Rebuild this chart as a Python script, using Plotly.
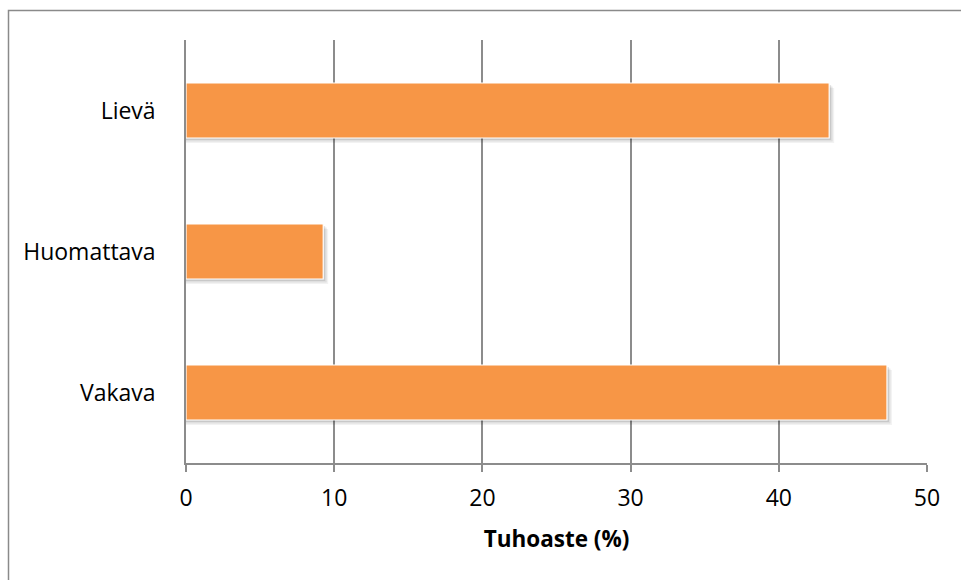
import plotly.graph_objects as go

categories = ["Vakava", "Huomattava", "Lievä"]
values = [47.3, 9.26, 43.4]
x_ticks = [0, 10, 20, 30, 40, 50]
x_title = "Tuhoaste (%)"

W, H = 961, 580
L, R, T, B = 186, 34, 40, 117
plot_w = W - L - R
plot_h = H - T - B
bar_w = 0.39
px_cat = 3 / plot_h  # category units per px
px_x = 50 / plot_w   # x units per px

fig = go.Figure()

# soft drop shadow (derived from the same values)
for i, (dy, dx, a) in enumerate([(2, 2, 0.10), (3.5, 3.5, 0.08), (5, 5, 0.05)]):
    fig.add_trace(go.Bar(
        y=categories, x=[v + dx * px_x for v in values], orientation="h",
        width=bar_w, offset=-bar_w / 2 - dy * px_cat,
        marker=dict(color=f"rgba(0,0,0,{a})", line=dict(width=0)),
        hoverinfo="skip", showlegend=False,
    ))

fig.add_trace(go.Bar(
    y=categories, x=values, orientation="h", width=bar_w,
    marker=dict(color="#F79646", line=dict(color="white", width=1.2)),
    showlegend=False,
))

fig.update_layout(
    width=W, height=H,
    margin=dict(l=L, r=R, t=T, b=B, autoexpand=False),
    barmode="overlay",
    plot_bgcolor="white", paper_bgcolor="white",
    font=dict(family="Open Sans, Liberation Sans, sans-serif", size=23, color="black"),
    xaxis=dict(
        range=[0, 50], tickvals=x_ticks, ticktext=[str(t) for t in x_ticks],
        showgrid=True, gridcolor="#8c8c8c", gridwidth=1.5,
        showline=True, linecolor="#8c8c8c", linewidth=1.5,
        ticks="outside", ticklen=7, tickcolor="#8c8c8c", tickwidth=1.5,
        ticklabelstandoff=7,
        zeroline=False, automargin=False,
        title=dict(text=f"<b>{x_title}</b>", font=dict(size=22.5), standoff=19),
    ),
    yaxis=dict(
        categoryorder="array", categoryarray=categories,
        range=[-0.5, 2.5],
        showgrid=False, showline=True, linecolor="#8c8c8c", linewidth=1.5,
        ticks="", ticklabelstandoff=24,
        zeroline=False, automargin=False,
    ),
    shapes=[dict(
        type="rect", xref="paper", yref="paper",
        x0=(8.5 - L) / plot_w, x1=1.2,
        y0=-0.5, y1=(H - B - 10.5) / plot_h,
        line=dict(color="#8a8a8a", width=1.5), fillcolor="rgba(0,0,0,0)",
        layer="below",
    )],
)

fig.write_html("out.html", config={"displayModeBar": False},
               post_script="document.body.style.margin='0';")
